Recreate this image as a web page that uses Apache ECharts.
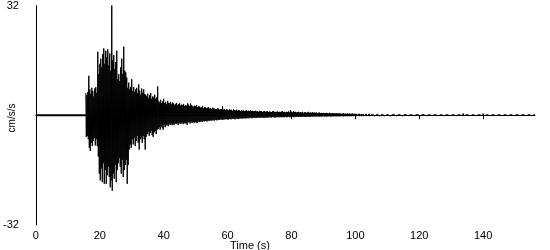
<!DOCTYPE html>
<html>
<head>
<meta charset="utf-8">
<script src="https://cdn.jsdelivr.net/npm/echarts@6/dist/echarts.min.js"></script>
<style>html,body{margin:0;padding:0;background:#fff}#c{width:550px;height:250px}</style>
</head>
<body>
<div id="c"></div>
<script>
// Time axis
var timeStart = 15.625;     // first sample of the strong-motion record (s)
var sampleStep = 0.3125;    // seconds per envelope step
var tailStart = 109.375;    // start of the quiet tail (s)
var timeMax = 156.25;
var xTickLabels = [0, 20, 40, 60, 80, 100, 120, 140];
var yTickLabels = [-32, 32];

// pre-event quiet part
var quietTimes = [0, 15.625];
var quietValues = [0, 0];

// peak positive acceleration in each step (cm/s/s)
var upperPeaks = [
 6.5,5.8,6.8,11.5,7.5,6.2,8,7,5.5,7.8,
 8.2,6.5,18.5,12,15,16.5,14,17.8,19.5,15,
 18.8,17,19.2,14.5,18,13,32,16,17.5,13.5,
 15.5,18.8,10.5,12,10,14,16.5,12,20,13,
 12.5,11,8,9.5,7.5,8.3,10.5,7,8.2,6.8,
 7.5,8,6.5,9,7.2,6,7.8,6.5,7.5,6.2,
 6,5.5,6.3,5,5.8,6.5,4.8,5.5,5.2,6,
 4.8,5.2,8.4,4.2,3.8,4.5,3.6,4,4.8,3.5,
 3.9,3.2,4.2,3.6,3.5,3.9,3.2,3.7,3.4,3,
 3.3,3.6,2.9,3.2,3.5,2.8,3.1,2.9,3.3,2.7,
 3,2.8,3.5,3.1,2.6,3.4,2.9,2.7,2.5,2.8,
 2.6,3,2.4,2.7,2.5,2.2,2.4,2.6,2.1,2.3,
 2.3,2,2.2,2.4,1.9,2.1,1.8,2.2,2,1.9,
 1.8,1.7,2,1.9,1.6,1.8,1.7,2.6,1.6,1.8,
 1.5,1.7,1.6,1.4,1.8,1.5,1.6,1.3,1.7,1.5,
 1.4,1.6,1.3,1.5,1.4,1.2,1.5,1.3,1.4,1.2,
 1.3,1.5,1.2,1.3,1.1,1.4,1.2,1.3,1.1,1.2,
 1.3,1.1,1.2,1,1.3,1.1,1.2,1,1.1,1.2,
 1,1.1,1.2,0.9,1.1,1,0.9,1.1,1.2,1,
 0.9,1,1.1,0.9,1,0.9,1.1,1.2,0.9,1,
 0.8,1,0.9,1.1,0.9,1.5,1,0.8,1.2,0.9,
 1,0.8,0.9,1,0.8,0.9,0.8,1,0.7,0.8,
 0.9,0.7,0.8,1,0.7,0.8,0.7,0.9,0.7,0.8,
 0.7,0.8,0.6,0.7,0.8,0.6,0.7,0.6,0.7,0.6,
 0.6,0.7,0.6,0.5,0.7,0.6,0.5,0.6,0.5,0.6,
 0.5,0.6,0.5,0.5,0.6,0.5,0.4,0.5,0.6,0.4,
 0.5,0.4,0.5,0.4,0.5,0.4,0.4,0.5,0.4,0.4,
 0.4,0.4,0.3,0.4,0.4,0.3,0.4,0.3,0.4,0.3,
 0.3,0.4,0.3,0.3,0.4,0.3,0.3,0.3,0.4,0.3,
 0.3,0.3,0.3,0.4,0.3,0.3,0.3,0.3,0.3,0.3
];
// peak negative acceleration in each step (cm/s/s)
var lowerPeaks = [
 -6.3,-6,-7,-9.5,-10.4,-8,-9,-7.5,-6.5,-8.8,
 -7,-9,-12,-17,-19,-15.5,-19.5,-14,-20,-16,
 -20,-17.5,-15,-18,-21,-19,-22,-17,-18.5,-14.5,
 -19.5,-16,-14,-12.5,-15,-17,-13,-18,-16,-14.5,
 -13,-20,-14.5,-10,-8.5,-9.5,-7,-8.5,-6.5,-9,
 -7.5,-6,-8,-10,-7,-6.5,-8,-6,-7,-10,
 -6.3,-5.5,-4.8,-6,-5.2,-4.5,-5.8,-6.3,-5,-4.6,
 -5.5,-4.2,-4,-3.5,-4.2,-3.2,-3.6,-4.2,-2.8,-3.5,
 -3,-2.7,-3.2,-2.6,-2.8,-2.4,-2.9,-2.5,-2.8,-2.3,
 -2.6,-2.3,-2.8,-2.2,-2.5,-2.4,-2.1,-2.6,-2.2,-2.4,
 -2.3,-2.8,-2.1,-2,-2.4,-1.9,-2.2,-2,-2.3,-1.9,
 -2.1,-2.3,-1.8,-2,-1.9,-1.7,-2,-1.6,-1.8,-1.7,
 -1.6,-1.8,-1.5,-1.7,-1.4,-1.6,-1.5,-1.3,-1.6,-1.4,
 -1.3,-1.5,-1.2,-1.4,-1.3,-1.1,-1.4,-1.2,-1.3,-1.1,
 -1.2,-1,-1.3,-1.1,-1,-1.2,-0.9,-1.1,-1,-1.2,
 -0.9,-1,-1.1,-0.9,-1,-0.8,-1,-0.9,-0.8,-1,
 -0.8,-0.9,-0.7,-0.9,-0.8,-0.7,-0.9,-0.8,-0.7,-0.8,
 -0.7,-0.8,-0.7,-0.6,-0.8,-0.7,-0.6,-0.7,-0.8,-0.6,
 -0.7,-0.6,-0.7,-0.6,-0.5,-0.7,-0.6,-0.5,-0.6,-0.7,
 -0.6,-0.5,-0.6,-0.5,-0.6,-0.5,-0.6,-0.5,-0.6,-0.5,
 -0.5,-0.6,-0.5,-0.4,-0.6,-0.5,-0.4,-0.5,-0.6,-0.4,
 -0.5,-0.4,-0.5,-0.4,-0.5,-0.4,-0.5,-0.4,-0.4,-0.5,
 -0.4,-0.5,-0.4,-0.4,-0.5,-0.4,-0.3,-0.4,-0.4,-0.3,
 -0.4,-0.3,-0.4,-0.3,-0.4,-0.3,-0.4,-0.3,-0.3,-0.4,
 -0.3,-0.4,-0.3,-0.3,-0.3,-0.4,-0.3,-0.3,-0.3,-0.3,
 -0.3,-0.3,-0.3,-0.3,-0.3,-0.3,-0.25,-0.3,-0.3,-0.25,
 -0.3,-0.25,-0.3,-0.25,-0.25,-0.3,-0.25,-0.25,-0.25,-0.25,
 -0.25,-0.25,-0.2,-0.25,-0.25,-0.2,-0.25,-0.2,-0.25,-0.2,
 -0.2,-0.25,-0.2,-0.2,-0.25,-0.2,-0.2,-0.2,-0.2,-0.2,
 -0.2,-0.2,-0.2,-0.2,-0.2,-0.2,-0.2,-0.2,-0.2,-0.2
];
// quiet tail samples (cm/s/s), one per step
var tailSamples = [
 0.3,-0.2,0.25,-0.2,0.3,-0.2,0.25,-0.2,0.3,-0.2,
 0.25,-0.2,0.3,-0.2,0.25,-0.15,0.25,-0.2,0.25,-0.15,
 0.25,-0.15,0.2,-0.15,0.25,-0.15,0.2,-0.15,0.25,-0.15,
 0.2,-0.15,0.25,-0.15,0.2,-0.15,0.2,-0.15,0.25,-0.15,
 0.2,-0.15,0.2,-0.15,0.2,-0.15,0.2,-0.15,0.2,-0.15,
 0.2,-0.15,0.2,-0.15,0.2,-0.15,0.2,-0.15,0.2,-0.15,
 0.2,-0.15,0.2,-0.15,0.2,-0.15,0.2,-0.15,0.2,-0.15,
 0.5,-0.15,0.2,-0.15,0.2,-0.15,0.2,-0.15,0.5,-0.15,
 0.2,-0.15,0.2,-0.15,0.2,-0.15,0.2,-0.15,0.2,-0.15,
 0.5,-0.15,0.2,-0.15,0.2,-0.15,0.2,-0.15,0.5,-0.15,
 0.2,-0.15,0.2,-0.15,0.2,-0.15,0.2,-0.15,0.2,-0.15,
 0.2,-0.15,0.2,-0.15,0.2,-0.15,0.2,-0.15,0.2,-0.15,
 0.2,-0.15,0.2,-0.15,0.2,-0.15,0.2,-0.15,0.2,-0.15,
 0.2,-0.15,0.2,-0.15,0.2,-0.15,0.2,-0.15,0.2,-0.15,
 0.5,-0.15,0.2,-0.15,0.2,-0.15,0.2,-0.15,0.2,-0.15,
 0.2
];

var quietData = [];
for (var k = 0; k < quietTimes.length; k++) quietData.push([quietTimes[k], quietValues[k]]);
var traceData = [];
for (var i = 0; i < upperPeaks.length; i++) {
  var t = timeStart + i * sampleStep;
  traceData.push([t, upperPeaks[i]]);
  traceData.push([t + sampleStep / 2, lowerPeaks[i]]);
}
for (var j = 0; j < tailSamples.length; j++) traceData.push([tailStart + j * sampleStep, tailSamples[j]]);

var font = 'Liberation Sans, Arial, sans-serif';
var chart = echarts.init(document.getElementById('c'), null, {renderer: 'canvas'});
chart.setOption({
  animation: false,
  backgroundColor: '#ffffff',
  grid: {left: 35, right: 15, top: 5, bottom: 25, containLabel: false},
  xAxis: {
    type: 'value', min: 0, max: timeMax, interval: 20,
    axisLine: {show: true, lineStyle: {color: '#000', width: 1}},
    axisTick: {show: true, inside: false, length: 4, lineStyle: {color: '#000'}},
    axisLabel: {color: '#000', fontSize: 11, fontFamily: font, margin: 5,
      showMaxLabel: false,
      formatter: function (v) { return xTickLabels.indexOf(v) >= 0 ? String(v) : ''; }},
    splitLine: {show: false}
  },
  yAxis: {
    type: 'value', min: -32, max: 32, interval: 32,
    axisLine: {show: true, lineStyle: {color: '#000', width: 1}},
    axisTick: {show: false},
    axisLabel: {color: '#000', fontSize: 11, fontFamily: font, margin: 17,
      formatter: function (v) { return yTickLabels.indexOf(v) >= 0 ? String(v) : ''; }},
    splitLine: {show: false}
  },
  graphic: [
    {type: 'text', left: 230, top: 240, style: {text: 'Time (s)', fill: '#000', font: '11px ' + font}},
    {type: 'text', x: 12, y: 118, rotation: Math.PI / 2,
     style: {text: 'cm/s/s', fill: '#000', font: '10px ' + font, textAlign: 'center', textVerticalAlign: 'middle'}}
  ],
  series: [{
    type: 'line', data: quietData, showSymbol: false, symbol: 'none',
    lineStyle: {color: '#000', width: 2}
  }, {
    type: 'line', data: traceData, showSymbol: false, symbol: 'none',
    sampling: null, clip: true,
    lineStyle: {color: '#000', width: 1}
  }]
});
</script>
</body>
</html>
